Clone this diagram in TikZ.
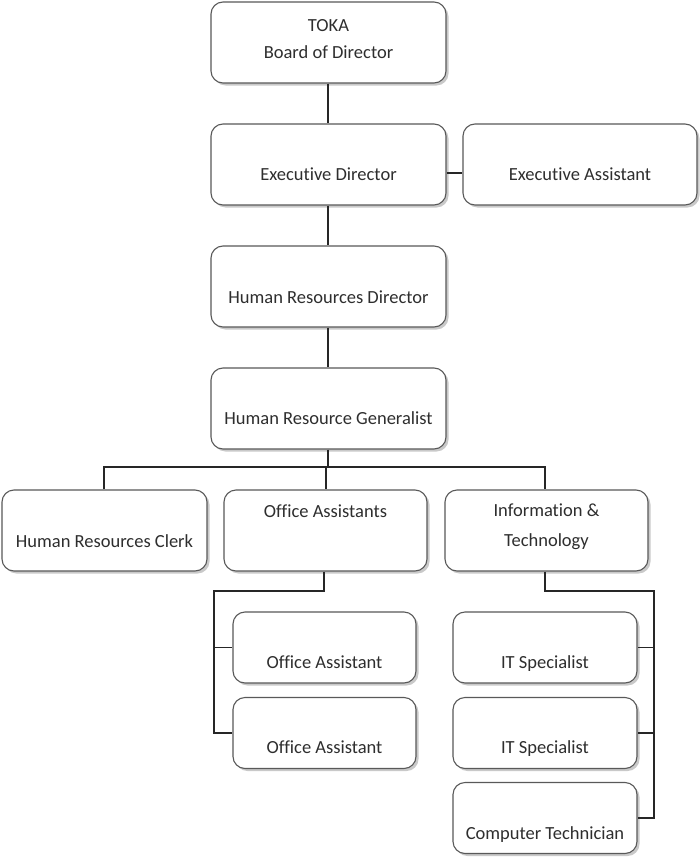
\documentclass[tikz,border=0pt]{standalone}
\usepackage{fontspec}
\setmainfont{Carlito}[Ligatures=NoCommon]
\usetikzlibrary{shadows,calc}
\begin{document}
\begin{tikzpicture}[x=1pt,y=-1pt,
  box/.style={draw=black!65, line width=1.1pt, rounded corners=12pt, fill=white,
    drop shadow={shadow xshift=2.5pt, shadow yshift=-2.5pt, fill=black!35, opacity=0.6},
    inner sep=0pt},
  lbl/.style={font=\fontsize{18.5}{27}\selectfont, text=black!82, align=center, inner sep=0pt},
  conn/.style={draw=black!85, line width=1.1pt}]
\useasboundingbox[fill=white] (0,0) rectangle (699,859);
% boxes
\node[box, minimum width=235pt, minimum height=81pt] (toka) at (328.5,42.5) {};
\node[box, minimum width=235pt, minimum height=81pt] (exec) at (328.5,164.5) {};
\node[box, minimum width=234pt, minimum height=81pt] (ea) at (580,164.5) {};
\node[box, minimum width=235pt, minimum height=81pt] (hrd) at (328.5,286.5) {};
\node[box, minimum width=235pt, minimum height=81pt] (hrg) at (328.5,408.5) {};
\node[box, minimum width=205pt, minimum height=81pt] (clerk) at (104.5,530.5) {};
\node[box, minimum width=203pt, minimum height=81pt] (oas) at (325.5,530.5) {};
\node[box, minimum width=203pt, minimum height=81pt] (it) at (546.5,530.5) {};
\node[box, minimum width=183pt, minimum height=71pt] (oa1) at (324.5,647.5) {};
\node[box, minimum width=183pt, minimum height=71pt] (oa2) at (324.5,733) {};
\node[box, minimum width=184pt, minimum height=71pt] (its1) at (545,647.5) {};
\node[box, minimum width=184pt, minimum height=71pt] (its2) at (545,733) {};
\node[box, minimum width=184pt, minimum height=71pt] (ct) at (545,818) {};
% labels
\node[lbl] (tokat) at (328.5,39) {TOKA\\Board of Director};
\node[lbl, anchor=base] (exect) at (328.5,180) {Executive Director};
\node[lbl, anchor=base] (eat) at (580,180) {Executive Assistant};
\node[lbl, anchor=base] (hrdt) at (328.5,303) {Human Resources Director};
\node[lbl, anchor=base] (hrgt) at (328.5,424) {Human Resource Generalist};
\node[lbl, anchor=base] (clerkt) at (104.5,547) {Human Resources Clerk};
\node[lbl, anchor=base] (oast) at (325.5,517) {Office Assistants};
\node[lbl, font=\fontsize{18.5}{30}\selectfont] (itt) at (546.5,527) {Information \&\\Technology};
\node[lbl, anchor=base] (oa1t) at (324.5,668) {Office Assistant};
\node[lbl, anchor=base] (oa2t) at (324.5,753) {Office Assistant};
\node[lbl, anchor=base] (its1t) at (545,668) {IT Specialist};
\node[lbl, anchor=base] (its2t) at (545,753) {IT Specialist};
\node[lbl, anchor=base] (ctt) at (545,839) {Computer Technician};
% junction coordinates
\coordinate (bus) at (328,467);
\coordinate (oaj) at (214,591);
\coordinate (itj) at (654,591);
% connectors
\draw[conn] (toka.south -| 328,0) -- (exec.north -| 328,0);
\draw[conn] (exec.east |- 0,173) -- (ea.west |- 0,173);
\draw[conn] (exec.south -| 328,0) -- (hrd.north -| 328,0);
\draw[conn] (hrd.south -| 328,0) -- (hrg.north -| 328,0);
\draw[conn] (hrg.south -| bus) -- (bus);
\draw[conn] (clerk.north -| 104,0) |- (bus) -| (it.north -| 545,0);
\draw[conn] (bus) -| (oas.north -| 326,0);
\draw[conn] (oas.south -| 324,0) |- (oaj) -- (oaj |- oa2.west) -- (oa2.west);
\draw[conn] (oaj |- oa1.west) -- (oa1.west);
\draw[conn] (it.south -| 545,0) |- (itj) -- (itj |- ct.east) -- (ct.east);
\draw[conn] (itj |- its1.east) -- (its1.east);
\draw[conn] (itj |- its2.east) -- (its2.east);
\end{tikzpicture}
\end{document}
